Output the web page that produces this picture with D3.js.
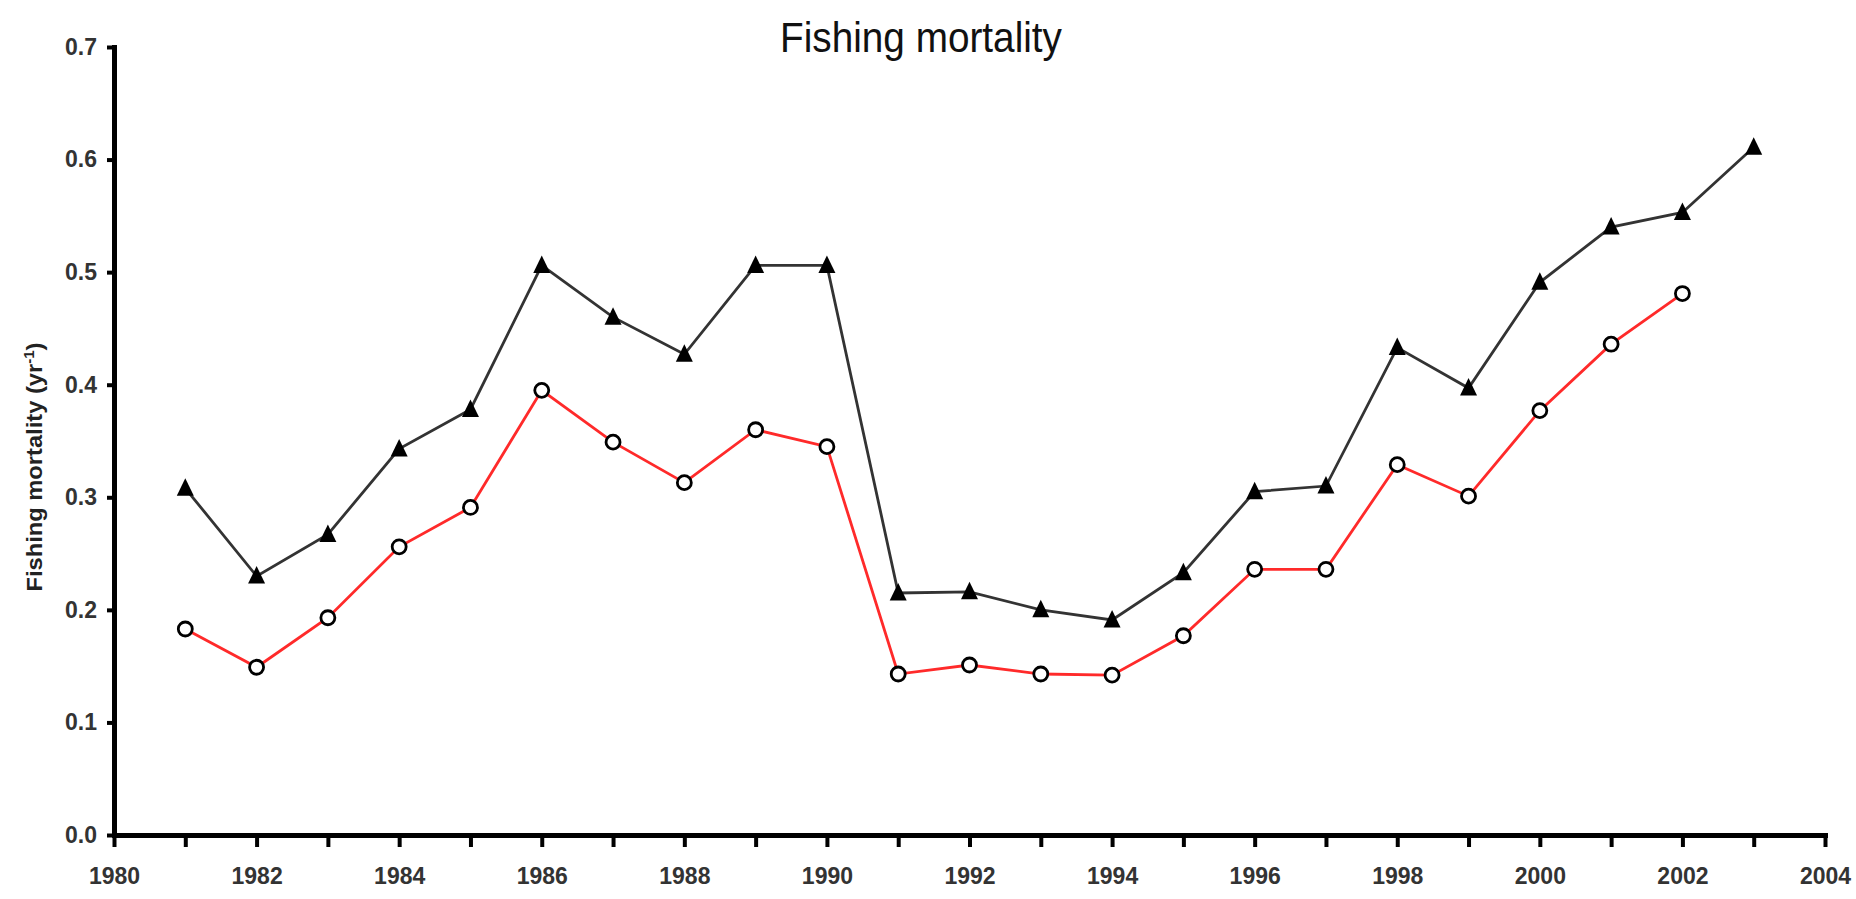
<!DOCTYPE html>
<html>
<head>
<meta charset="utf-8">
<title>Fishing mortality</title>
<script src="https://cdn.jsdelivr.net/npm/d3@7"></script>
<style>
  html, body { margin: 0; padding: 0; background: #fff; }
  svg { display: block; }
  text { font-family: "Liberation Sans", Arial, sans-serif; }
</style>
</head>
<body>
<svg id="chart"></svg>
<script>
// data
const years = [1981, 1982, 1983, 1984, 1985, 1986, 1987, 1988, 1989, 1990, 1991, 1992,
  1993, 1994, 1995, 1996, 1997, 1998, 1999, 2000, 2001, 2002, 2003];
const fTriangle = [0.308, 0.23, 0.267, 0.343, 0.378, 0.506, 0.46, 0.427, 0.506, 0.506, 0.215, 0.216,
  0.2, 0.191, 0.233, 0.305, 0.31, 0.433, 0.397, 0.491, 0.54, 0.553, 0.611];
const fCircle = [0.183, 0.149, 0.193, 0.256, 0.291, 0.395, 0.349, 0.313, 0.36, 0.345, 0.143, 0.151,
  0.143, 0.142, 0.177, 0.236, 0.236, 0.329, 0.301, 0.377, 0.436, 0.481];
const yTicks = [0, 0.1, 0.2, 0.3, 0.4, 0.5, 0.6, 0.7];
const xTicks = d3.range(1980, 2005);
const xLabels = d3.range(1980, 2005, 2);

document.addEventListener("DOMContentLoaded", function () {
  const width = 1856;
  const height = 899;

  const svg = d3.select("#chart").attr("width", width).attr("height", height);

  const x = d3.scaleLinear().domain([1980, 2004]).range([114, 1825]);
  const y = d3.scaleLinear().domain([0, 0.7]).range([835, 47]);

  // title
  svg.append("text")
    .attr("x", 921)
    .attr("y", 52)
    .attr("text-anchor", "middle")
    .attr("font-size", 42)
    .attr("fill", "#111")
    .attr("textLength", 282)
    .attr("lengthAdjust", "spacingAndGlyphs")
    .text("Fishing mortality");

  // y axis label
  const yLab = svg.append("text")
    .attr("transform", "translate(42,467) rotate(-90)")
    .attr("text-anchor", "middle")
    .attr("font-size", 22)
    .attr("font-weight", "bold")
    .attr("fill", "#222")
    .attr("textLength", 249)
    .attr("lengthAdjust", "spacingAndGlyphs");
  yLab.append("tspan").text("Fishing mortality (yr");
  yLab.append("tspan").attr("baseline-shift", "super").attr("font-size", 14).text("-1");
  yLab.append("tspan").text(")");

  // axes
  const yAxis = d3.axisLeft(y)
    .tickValues(yTicks)
    .tickFormat(d3.format(".1f"))
    .tickSize(7)
    .tickSizeOuter(0)
    .tickPadding(10);

  const xAxis = d3.axisBottom(x)
    .tickValues(xTicks)
    .tickFormat((d) => (xLabels.includes(d) ? d : ""))
    .tickSize(12)
    .tickSizeOuter(0)
    .tickPadding(21);

  const gy = svg.append("g").attr("transform", "translate(114,0)").call(yAxis);
  const gx = svg.append("g").attr("transform", "translate(0,835)").call(xAxis);

  [gx, gy].forEach((g) => {
    g.select(".domain").attr("stroke", "#000").attr("stroke-width", 5).attr("stroke-linecap", "square");
    g.selectAll(".tick line").attr("stroke", "#000").attr("stroke-width", 4);
    g.selectAll(".tick text")
      .attr("font-family", "'Liberation Sans', Arial, sans-serif")
      .attr("font-size", 23)
      .attr("font-weight", "bold")
      .attr("fill", "#333");
  });

  // lines
  const line = d3.line()
    .x((d) => x(d[0]))
    .y((d) => y(d[1]));

  const triData = years.map((yr, i) => [yr, fTriangle[i]]);
  const circData = fCircle.map((v, i) => [years[i], v]);

  svg.append("path")
    .datum(triData)
    .attr("d", line)
    .attr("fill", "none")
    .attr("stroke", "#333")
    .attr("stroke-width", 2.8);

  svg.append("path")
    .datum(circData)
    .attr("d", line)
    .attr("fill", "none")
    .attr("stroke", "#ff2a2a")
    .attr("stroke-width", 2.8);

  // markers
  svg.append("g")
    .selectAll("path")
    .data(triData)
    .join("path")
    .attr("transform", (d) => `translate(${x(d[0])},${y(d[1])})`)
    .attr("d", "M0,-10L8.5,7.5L-8.5,7.5Z")
    .attr("fill", "#000");

  svg.append("g")
    .selectAll("circle")
    .data(circData)
    .join("circle")
    .attr("cx", (d) => x(d[0]))
    .attr("cy", (d) => y(d[1]))
    .attr("r", 7)
    .attr("fill", "#fff")
    .attr("stroke", "#000")
    .attr("stroke-width", 2.8);
});
</script>
</body>
</html>
